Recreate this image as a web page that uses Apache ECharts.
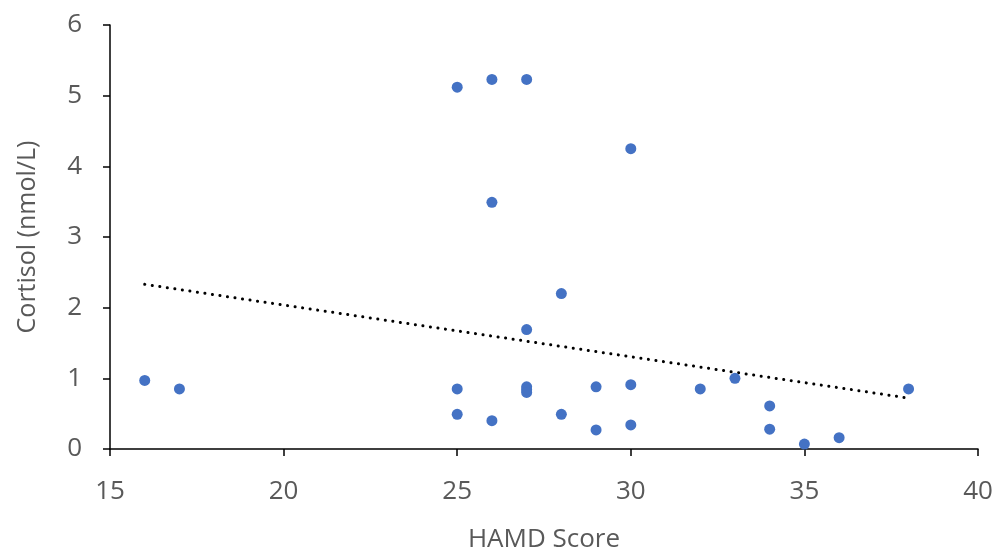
<!DOCTYPE html>
<html>
<head>
<meta charset="utf-8">
<script src="https://cdn.jsdelivr.net/npm/echarts@6/dist/echarts.min.js"></script>
<style>html,body{margin:0;padding:0;background:#fff}#c{width:1000px;height:558px}</style>
</head>
<body>
<div id="c"></div>
<script>
const hamd = [16, 17, 25, 26, 27, 30, 26, 28, 27, 25, 25, 26, 27, 27, 27, 28, 29, 29, 30, 30, 32, 33, 34, 34, 35, 36, 38];
const cortisol = [0.97, 0.85, 5.12, 5.23, 5.23, 4.25, 3.49, 2.20, 1.69, 0.85, 0.49, 0.40, 0.88, 0.84, 0.80, 0.49, 0.88, 0.27, 0.91, 0.34, 0.85, 1.00, 0.61, 0.28, 0.07, 0.16, 0.85];
const trendX = [16, 38];
const trendY = [2.33, 0.72];
const xTicks = [15, 20, 25, 30, 35, 40];
const yTicks = [0, 1, 2, 3, 4, 5, 6];

const font = '"Open Sans", sans-serif';
const chart = echarts.init(document.getElementById('c'), null, {renderer: 'canvas'});
chart.setOption({
  animation: false,
  grid: {left: 110, right: 22, top: 25, bottom: 108},
  xAxis: {
    type: 'value', min: xTicks[0], max: xTicks[xTicks.length - 1], interval: 5,
    name: 'HAMD Score', nameLocation: 'middle', nameGap: 78,
    nameTextStyle: {fontFamily: font, fontSize: 26, color: '#595959'},
    axisLine: {show: true, lineStyle: {color: '#000', width: 1.5}},
    axisTick: {show: true, length: 7, lineStyle: {color: '#000', width: 1.5}},
    axisLabel: {fontFamily: font, fontSize: 26, color: '#595959', margin: 30},
    splitLine: {show: false}
  },
  yAxis: {
    type: 'value', min: yTicks[0], max: yTicks[yTicks.length - 1], interval: 1,
    name: 'Cortisol (nmol/L)', nameLocation: 'middle', nameGap: 70,
    nameTextStyle: {fontFamily: font, fontSize: 25, color: '#595959'},
    axisLine: {show: true, onZero: false, lineStyle: {color: '#000', width: 1.5}},
    axisTick: {show: true, length: 7, lineStyle: {color: '#000', width: 1.5}},
    axisLabel: {fontFamily: font, fontSize: 26, color: '#595959', margin: 28},
    splitLine: {show: false}
  },
  series: [
    {
      type: 'scatter', symbol: 'circle', symbolSize: 11,
      itemStyle: {color: '#4472C4', opacity: 1},
      data: hamd.map((x, i) => [x, cortisol[i]]),
      z: 3
    },
    {
      type: 'line', symbol: 'none', silent: true,
      lineStyle: {color: '#000', width: 3, type: [0.1, 7.5], cap: 'round'},
      data: trendX.map((x, i) => [x, trendY[i]]),
      z: 2
    }
  ]
});
</script>
</body>
</html>
